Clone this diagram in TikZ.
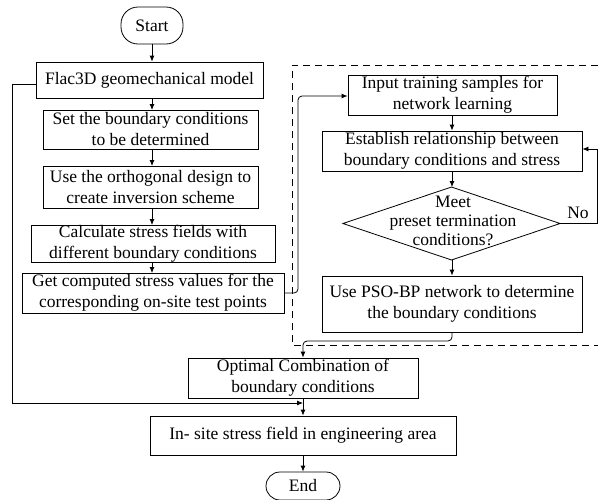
\documentclass[tikz,border=0pt]{standalone}
\usepackage{fontspec}
\setmainfont{Liberation Serif}
\usetikzlibrary{arrows.meta}
\begin{document}
\begin{tikzpicture}[x=1pt,y=-1pt,
  every node/.style={font=\fontsize{17.5}{21}\selectfont, text=black},
  box/.style={draw, line width=0.8pt, align=center, inner sep=0pt},
  term/.style={box, rounded corners=17pt},
  arr/.style={-{Latex[length=6pt,width=5pt]}, line width=0.8pt},
  link/.style={line width=0.8pt},
  frame/.style={line width=0.8pt, dash pattern=on 7pt off 5pt}
]
\useasboundingbox (0,0) rectangle (598,499);

% left column: numerical model
\node[term, minimum width=62pt, minimum height=37pt] (start) at (152,25.5) {Start};
\node[box, minimum width=227pt, minimum height=36pt] (flac) at (149.5,80) {Flac3D geomechanical model};
\node[box, minimum width=215pt, minimum height=39pt] (set) at (150.5,129.5) {Set the boundary conditions\\to be determined};
\node[box, minimum width=215pt, minimum height=42pt] (ortho) at (150.5,187) {Use the orthogonal design to\\create inversion scheme};
\node[box, minimum width=244pt, minimum height=37pt] (calc) at (153,243.5) {Calculate stress fields with\\different boundary conditions};
\node[box, minimum width=262pt, minimum height=40pt] (get) at (153,293) {Get computed stress values for the\\corresponding on-site test points};

% right column: PSO-BP network (dashed frame)
\draw[frame] (598,65) -- (292,65) -- (292,345) -- (598,345);
\node[box, minimum width=209pt, minimum height=40pt] (input) at (452.5,95) {Input training samples for\\network learning};
\node[box, minimum width=260pt, minimum height=40pt] (estab) at (452,151) {Establish relationship between\\boundary conditions and stress};
\draw[line width=0.8pt] (343,223.5) coordinate (dw) -- (451.5,187) coordinate (dn)
  -- (560,223.5) coordinate (de) -- (451.5,260) coordinate (ds) -- cycle;
\node[align=center, inner sep=0pt, font=\fontsize{17.5}{19}\selectfont] (meet) at (453,221) {Meet\\preset termination\\conditions?};
\node[box, minimum width=260pt, minimum height=56pt] (pso) at (452,304) {Use PSO-BP network to determine\\the boundary conditions};

% bottom column: result
\node[box, minimum width=230pt, minimum height=40pt] (opt) at (303,378) {Optimal Combination of\\boundary conditions};
\node[box, minimum width=306pt, minimum height=39pt] (insite) at (303,435.5) {In- site stress field in engineering area};
\node[term, minimum width=74pt, minimum height=28pt, rounded corners=14pt] (end) at (303,486) {End};

% main flow
\draw[arr] (start.south) -- (start.south |- flac.north);
\draw[arr] (152,98) -- (152,110);
\draw[arr] (152,149) -- (152,166);
\draw[arr] (152,208) -- (152,225);
\draw[arr] (152,262) -- (152,273);
\draw[arr, rounded corners=4pt] (get.east) -- (298,293) -- (298,96) -- (input.west |- 0,96);
\draw[arr] (input.south -| 452,0) -- (estab.north -| 452,0);
\draw[arr] (estab.south -| 452,0) -- (dn -| 452,0);
\draw[arr] (ds -| 452,0) -- (pso.north -| 452,0);
\draw[arr] (de) -- (597,223.5) -- (597,149) -- (estab.east |- 0,149);
\node[inner sep=0pt] (no) at (578,213) {No};
\draw[arr, rounded corners=4pt] (pso.south -| 452,0) -- (452,341) -- (303,341) -- (opt.north);
\coordinate (join) at (303,403);
\draw[arr] (flac.west |- 0,84) -- (12,84) -- (12,403) -- (join);
\draw[arr] (opt.south) -- (insite.north);
\draw[arr] (insite.south) -- (end.north);
\end{tikzpicture}
\end{document}
